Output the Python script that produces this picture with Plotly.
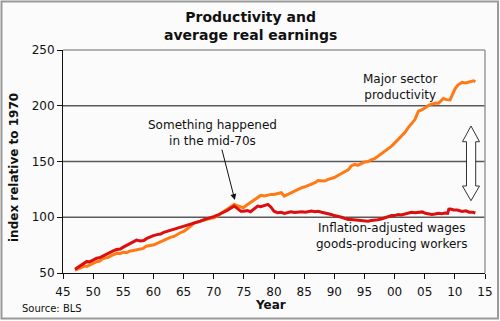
import plotly.graph_objects as go

# ---------------- data ----------------
prod_years = [1947.0, 1947.5, 1948.0, 1948.5, 1949.0, 1949.5, 1950.0, 1950.5, 1951.0, 1951.5,
              1952.0, 1952.5, 1953.0, 1953.5, 1954.0, 1954.5, 1955.0, 1955.6, 1956.0, 1956.5,
              1957.0, 1957.8, 1958.3, 1958.8, 1959.5, 1960.1, 1960.6, 1961.2, 1961.7, 1962.3,
              1962.8, 1963.4, 1964.0, 1964.6, 1965.1, 1965.6, 1966.2, 1966.7, 1967.3, 1967.8,
              1968.4, 1968.9, 1969.5, 1970.0, 1970.6, 1971.2, 1971.8, 1972.3, 1972.9, 1973.4,
              1973.9, 1974.5, 1974.9, 1975.5, 1976.2, 1976.8, 1977.3, 1977.8, 1978.4, 1979.0,
              1979.5, 1980.0, 1980.6, 1981.2, 1981.7, 1982.3, 1982.8, 1983.4, 1984.0, 1984.6,
              1985.2, 1985.7, 1986.2, 1986.8, 1987.3, 1987.9, 1988.4, 1989.0, 1989.5, 1990.0,
              1990.6, 1991.2, 1991.7, 1992.3, 1992.8, 1993.4, 1993.9, 1994.5, 1995.0, 1995.6,
              1996.1, 1996.7, 1997.3, 1997.8, 1998.4, 1998.9, 1999.5, 2000.0, 2000.6, 2001.1,
              2001.7, 2002.2, 2002.8, 2003.4, 2003.7, 2004.0, 2004.6, 2005.1, 2005.7, 2006.2,
              2006.8, 2007.3, 2007.8, 2008.1, 2008.6, 2009.2, 2009.6, 2010.0, 2010.5, 2011.2,
              2011.8, 2012.4, 2013.1, 2013.4]
prod_values = [52.5, 53.5, 54.5, 56, 56, 57.2, 59, 60, 60.5, 62.5,
               63.5, 64, 65.5, 66.5, 67.8, 67.5, 68.5, 68.4, 69.5, 70,
               70.5, 71.4, 72, 74, 74.5, 75.3, 76.5, 78, 79.8, 81,
               82, 82.8, 85, 86.5, 87.5, 89.5, 92, 94.9, 95.5, 96.5,
               97.5, 97.9, 99, 99.5, 100.9, 103.5, 105.5, 107.6, 109.5, 111.5,
               110.5, 109, 108.5, 111, 113.6, 115.5, 117, 119.6, 119, 120,
               120.5, 120.5, 121.5, 122, 119, 120.5, 122, 123.5, 125.5, 126.5,
               127.5, 128.5, 129.6, 131, 133, 132.5, 132.5, 134, 134.8, 135.6,
               137.5, 139.5, 140.5, 142.5, 146, 147.5, 146.5, 148, 149.5, 150,
               151.5, 152.5, 154.8, 156.5, 159.5, 161.5, 163.8, 166.5, 170, 173,
               175.9, 180, 183.5, 187.8, 192, 195.3, 196.5, 198.5, 200.5, 201.4,
               202.5, 202.3, 205.5, 206.5, 205.5, 205.2, 210, 215, 218.5, 221,
               220.5, 221.5, 222.4, 221.5]

wage_years = [1947.0, 1947.5, 1948.0, 1948.5, 1948.9, 1949.4, 1950.0, 1950.6, 1951.2, 1951.7,
              1952.3, 1952.8, 1953.4, 1953.9, 1954.5, 1955.0, 1955.6, 1956.1, 1956.7, 1957.2,
              1957.8, 1958.4, 1958.9, 1959.5, 1960.0, 1960.6, 1961.2, 1961.7, 1962.3, 1962.8,
              1963.4, 1963.9, 1964.5, 1965.0, 1965.6, 1966.1, 1966.7, 1967.2, 1967.8, 1968.4,
              1968.9, 1969.5, 1970.0, 1970.6, 1971.1, 1971.7, 1972.3, 1972.8, 1973.4, 1973.9,
              1974.5, 1975.0, 1975.6, 1976.1, 1976.7, 1977.3, 1977.8, 1978.4, 1979.0, 1979.5,
              1980.0, 1980.6, 1981.2, 1981.7, 1982.3, 1982.8, 1983.4, 1984.0, 1984.6, 1985.2,
              1985.7, 1986.2, 1986.8, 1987.3, 1987.9, 1988.4, 1989.0, 1989.5, 1990.0, 1990.6,
              1991.2, 1991.7, 1992.3, 1992.8, 1993.4, 1993.9, 1994.5, 1995.0, 1995.6, 1996.1,
              1996.7, 1997.2, 1997.8, 1998.4, 1998.9, 1999.5, 2000.0, 2000.6, 2001.1, 2001.7,
              2002.2, 2002.8, 2003.4, 2004.0, 2004.6, 2005.1, 2005.7, 2006.2, 2006.7, 2007.3,
              2007.8, 2008.4, 2008.8, 2009.0, 2009.3, 2009.8, 2010.4, 2011.0, 2011.2, 2011.8,
              2012.4, 2013.0, 2013.4]
wage_values = [53.3, 55, 56.5, 58.5, 60.2, 60, 62, 63.3, 64, 65.5,
               67, 68.4, 70, 71, 71.5, 73.2, 75, 76.5, 78.3, 79.5,
               78.8, 79.2, 81, 82.5, 83.5, 84.4, 85, 86.5, 87.5, 88,
               88.9, 90, 90.5, 91.5, 92.5, 93.5, 94.5, 95.5, 96.5, 97.9,
               98.5, 99.5, 100.5, 101.8, 103, 104.5, 106.3, 108, 110, 108,
               105.4, 105.4, 106, 105, 107.5, 110, 109.5, 110.5, 111.5, 109,
               105.4, 104, 104.5, 103.5, 104, 104.8, 104.2, 104.5, 105, 104.5,
               105.2, 105.6, 105, 105.4, 104.5, 104, 103.3, 102.5, 101.5, 101,
               100, 99, 98, 97.9, 97.5, 97.3, 97.3, 96.8, 96.5, 97,
               97.2, 97.8, 98.4, 99.5, 100.8, 101.6, 101.5, 102.5, 102, 103,
               103.5, 104.5, 104, 104.3, 104.8, 103.5, 103, 102.5, 102.9, 103.5,
               103.2, 103.8, 103.5, 107.2, 107.4, 106.5, 106.5, 105.5, 105.2, 105.8,
               104.5, 104.5, 103.8]

x_tick_vals = [1945, 1950, 1955, 1960, 1965, 1970, 1975, 1980, 1985, 1990, 1995, 2000, 2005, 2010, 2015]
x_tick_text = ["45", "50", "55", "60", "65", "70", "75", "80", "85", "90", "95", "00", "05", "10", "15"]
y_tick_vals = [50, 100, 150, 200, 250]
grid_vals = [100, 150, 200]

# ---------------- layout helpers ----------------
W, H = 500, 321
L, R, T, B = 63, 15, 50, 48
PW, PH = W - L - R, H - T - B


def px(x):
    return (x - L) / PW


def py(y):
    return (H - B - y) / PH


FONT = "DejaVu Sans, Verdana, sans-serif"
ORANGE = "#ff7a14"
RED = "#dc0f0f"

fig = go.Figure()
fig.add_trace(go.Scatter(x=prod_years, y=prod_values, mode="lines",
                         line=dict(color=ORANGE, width=3), hoverinfo="skip"))
fig.add_trace(go.Scatter(x=wage_years, y=wage_values, mode="lines",
                         line=dict(color=RED, width=3), hoverinfo="skip"))

shapes = []
for g in grid_vals:
    shapes.append(dict(type="line", xref="paper", yref="y", x0=0, x1=1, y0=g, y1=g,
                       line=dict(color="#5a5a5a", width=1.5), layer="below"))
# plot frame (top and right)
shapes.append(dict(type="line", xref="paper", yref="paper", x0=0, x1=1, y0=1, y1=1,
                   line=dict(color="#9a9a9a", width=1.5), layer="below"))
shapes.append(dict(type="line", xref="paper", yref="paper", x0=1, x1=1, y0=0, y1=1,
                   line=dict(color="#9a9a9a", width=1.5), layer="below"))
# outer figure border
shapes.append(dict(type="rect", xref="paper", yref="paper",
                   x0=px(1.5), x1=px(498), y0=py(318.5), y1=py(1.5),
                   line=dict(color="#9a9a9a", width=2)))
# double-headed block arrow
pts = [(471, 126), (479.5, 141.7), (475.7, 141.7), (475.7, 186), (479.5, 186),
       (471, 200.7), (462.5, 186), (466.5, 186), (466.5, 141.7), (462.5, 141.7)]
path = "M " + " L ".join(f"{px(a):.5f},{py(b):.5f}" for a, b in pts) + " Z"
shapes.append(dict(type="path", xref="paper", yref="paper", path=path,
                   fillcolor="white", line=dict(color="#333333", width=1), layer="above"))

annotations = [
    dict(text="<b>Productivity and<br>average real earnings</b>", x=px(250), y=py(7),
         xref="paper", yref="paper", xanchor="center", yanchor="top", showarrow=False,
         font=dict(size=14, color="#111", family=FONT)),
    dict(text="Something happened<br>in the mid-70s", x=1969.8, y=175.5, xref="x", yref="y",
         showarrow=False, font=dict(size=12, color="#111", family=FONT)),
    dict(text="", x=1973.5, y=115.5, ax=1971.3, ay=162, xref="x", yref="y", axref="x", ayref="y",
         showarrow=True, arrowhead=2, arrowsize=1.2, arrowwidth=1, arrowcolor="#111"),
    dict(text="Major sector<br>productivity", x=2000.9, y=217, xref="x", yref="y",
         showarrow=False, font=dict(size=12, color="#111", family=FONT)),
    dict(text="Inflation-adjusted wages<br>goods-producing workers", x=1999.6, y=83.5,
         xref="x", yref="y", showarrow=False, font=dict(size=12, color="#111", family=FONT)),
    dict(text="<b>index relative to 1970</b>", x=px(14), y=py(168), xref="paper", yref="paper",
         xanchor="center", yanchor="middle",
         textangle=-90, showarrow=False, font=dict(size=12, color="#111", family=FONT)),
    dict(text="<b>Year</b>", x=px(270), y=py(305), xref="paper", yref="paper",
         xanchor="center", yanchor="middle",
         showarrow=False, font=dict(size=12, color="#111", family=FONT)),
    dict(text="Source: BLS", x=px(20), y=py(308), xref="paper", yref="paper",
         xanchor="left", yanchor="middle", showarrow=False,
         font=dict(size=10, color="#111", family=FONT)),
]

fig.update_layout(
    width=W, height=H,
    margin=dict(l=L, r=R, t=T, b=B, autoexpand=False),
    paper_bgcolor="#fbfbfb", plot_bgcolor="#fbfbfb",
    showlegend=False,
    font=dict(family=FONT, size=12, color="#111"),
    xaxis=dict(range=[1945, 2015], tickvals=x_tick_vals, ticktext=x_tick_text,
               showgrid=False, zeroline=False, showline=True, linecolor="#111", linewidth=1,
               ticks="outside", ticklen=5, tickcolor="#111", tickfont=dict(size=12),
               ticklabelstandoff=3, automargin=False),
    yaxis=dict(range=[50, 250], tickvals=y_tick_vals, showgrid=False, zeroline=False,
               showline=True, linecolor="#111", linewidth=1,
               ticks="outside", ticklen=5, tickcolor="#111", tickfont=dict(size=12),
               automargin=False),
    shapes=shapes,
    annotations=annotations,
)

fig.write_html("out.html")
